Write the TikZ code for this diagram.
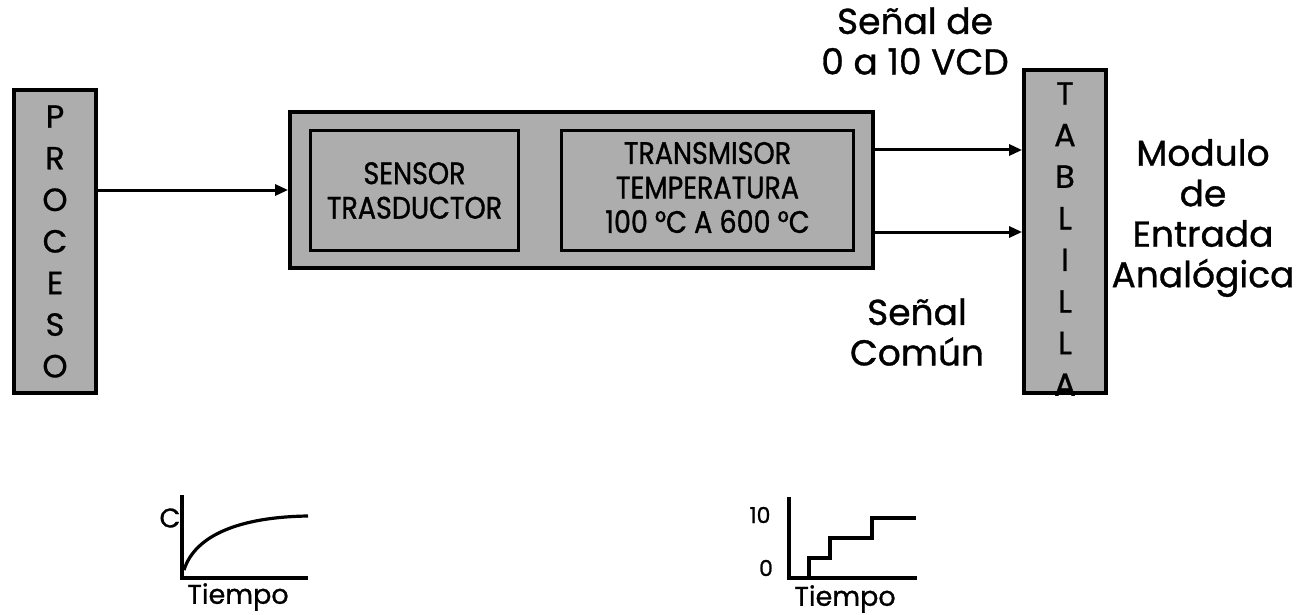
\documentclass[tikz,border=0pt]{standalone}
\usepackage{fontspec}
\setmainfont{Poppins}[FakeBold=0.9]
\newfontfamily\condfont{Poppins}[FakeStretch=0.87,FakeBold=1.1]
\usetikzlibrary{arrows.meta}
\begin{document}
\begin{tikzpicture}[x=1pt,y=-1pt,
  blk/.style={draw=black, line width=3.8pt, fill=black!32, inner sep=0pt},
  inbox/.style={draw=black, line width=3.2pt, inner sep=0pt},
  lbl/.style={font=\fontsize{36}{40.5}\selectfont, align=center, inner sep=0pt},
  vlet/.style={font=\fontsize{32}{41.6}\selectfont, align=center, inner sep=0pt},
  intxt/.style={font=\condfont\fontsize{31}{34.5}\selectfont, align=center, inner sep=0pt},
  arr/.style={line width=3pt, -{Triangle[length=13pt,width=11pt]}},
  plot/.style={line width=3.2pt},
  small/.style={font=\fontsize{27}{27}\selectfont, inner sep=0pt},
  digit/.style={font=\fontsize{22}{22}\selectfont, inner sep=0pt}
]
\useasboundingbox (0,0) rectangle (1304,615);

% PROCESO
\node[blk, minimum width=82pt, minimum height=303pt] (proc) at (55,241.5) {};
\node[vlet] (proctxt) at (proc.center) {P\\R\\O\\C\\E\\S\\O};

% big box
\node[blk, minimum width=583pt, minimum height=156pt] (big) at (581.5,190) {};
\node[inbox, minimum width=208pt, minimum height=120pt] (sens) at (414.5,190.5) {};
\node[intxt] (senstxt) at (sens.center) {SENSOR\\TRASDUCTOR};
\node[inbox, minimum width=292pt, minimum height=120pt] (trans) at (707.5,190.5) {};
\node[intxt] (transtxt) at ([yshift=3pt]trans.center) {TRANSMISOR\\TEMPERATURA\\100 °C A 600 °C};

% TABLILLA
\node[blk, minimum width=82pt, minimum height=323pt] (tab) at (1065,231.5) {};
\node[vlet] (tabtxt) at (1065,239) {T\\A\\B\\L\\I\\L\\L\\A};

% arrows
\draw[arr] (proc.east |- big.west) -- (big.west);
\draw[arr] ([yshift=40pt]big.east) -- ([yshift=40pt]big.east -| tab.west);
\draw[arr] ([yshift=-42pt]big.east) -- ([yshift=-42pt]big.east -| tab.west);

% labels
\node[lbl] (sig) at (915,41) {Señal de\\0 a 10 VCD};
\node[lbl] (com) at (917,332) {Señal\\Común};
\node[lbl] (mod) at (1203,218) {Modulo\\de\\Entrada\\Analógica};

% graph 1
\draw[plot] (182,495) -- (182,578) -- (308,578);
\draw[plot] (184,570) .. controls (195,535) and (240,517) .. (308,516);
\node[small] (c) at (170,518) {C};
\node[small] (t1) at (238,597) {Tiempo};

% graph 2
\draw[plot] (789,497) -- (789,578) -- (917,578);
\draw[plot] (809,578) -- (809,558) -- (830,558) -- (830,538) -- (872,538) -- (872,518) -- (916,518);
\node[digit] (ten) at (760,515) {10};
\node[digit] (zero) at (766,568) {0};
\node[small] (t2) at (845,599) {Tiempo};
\end{tikzpicture}
\end{document}
